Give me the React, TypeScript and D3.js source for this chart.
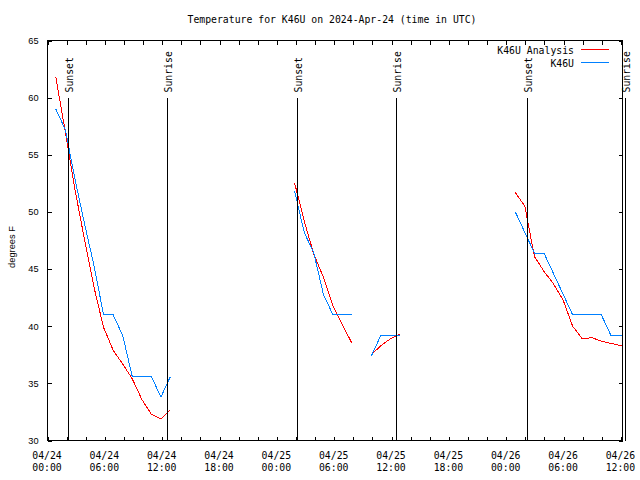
import React from "react";
import * as d3 from "d3";

const WIDTH = 640;
const HEIGHT = 480;
const PLOT = { left: 47.5, right: 622.5, top: 40.5, bottom: 440.5 };

const TITLE = "Temperature for K46U on 2024-Apr-24 (time in UTC)";
const Y_LABEL = "degrees F";
const X_DOMAIN = ["2024-04-24T00:00:00Z", "2024-04-26T12:10:00Z"];
const Y_DOMAIN = [30, 65];
const Y_TICKS = [30, 35, 40, 45, 50, 55, 60, 65];

const SUNSETS = ["2024-04-24T02:08:00Z", "2024-04-25T02:09:00Z", "2024-04-26T02:10:00Z"];
const SUNRISES = ["2024-04-24T12:31:00Z", "2024-04-25T12:29:00Z", "2024-04-26T12:28:00Z"];

// Hourly segments: start time of each segment
const SEGMENT_STARTS = [
  "2024-04-24T00:52:00Z",
  "2024-04-25T01:52:00Z",
  "2024-04-25T09:53:00Z",
  "2024-04-26T00:57:00Z",
];

// K46U Analysis (red)
const analysis1 = [61.8, 57.0, 52.0, 47.6, 43.4, 39.9, 37.9, 36.7, 35.4, 33.6, 32.3, 31.9, 32.7];
const analysis2 = [52.5, 49.2, 46.3, 44.3, 41.8, 40.1, 38.5];
const analysis3 = [37.5, 38.3, 38.9, 39.3];
const analysis4 = [51.7, 50.5, 46.1, 44.8, 43.7, 42.3, 40.0, 38.9, 39.0, 38.7, 38.5, 38.3, 38.1];

// K46U observations (blue)
const obs1 = [59.0, 57.2, 52.9, 49.0, 45.3, 41.0, 41.0, 39.2, 35.6, 35.6, 35.6, 33.8, 35.6];
const obs2 = [51.8, 48.2, 46.4, 42.8, 41.0, 41.0, 41.0];
const obs3 = [37.4, 39.2, 39.2, 39.2];
const obs4 = [50.0, 48.2, 46.4, 46.4, 44.6, 42.8, 41.0, 41.0, 41.0, 41.0, 39.2, 39.2, 39.2];

const ANALYSIS = [analysis1, analysis2, analysis3, analysis4];
const OBS = [obs1, obs2, obs3, obs4];

const RED = "#ff0000";
const BLUE = "#0080ff";
const MONO = "'DejaVu Sans Mono', monospace";
const SANS = "'Liberation Sans', Arial, sans-serif";

type Pt = { t: Date; v: number };

function toPoints(start: string, values: number[]): Pt[] {
  const s = new Date(start);
  return values.map((v, i) => ({ t: d3.utcHour.offset(s, i), v }));
}

export default function App() {
  const x = d3
    .scaleUtc()
    .domain(X_DOMAIN.map((d) => new Date(d)) as [Date, Date])
    .range([PLOT.left, PLOT.right]);
  const y = d3.scaleLinear().domain(Y_DOMAIN).range([PLOT.bottom, PLOT.top]);

  const line = d3
    .line<Pt>()
    .x((d) => x(d.t))
    .y((d) => y(d.v));

  const minorTicks = x.ticks(d3.utcHour.every(2) as any);
  const majorTicks = x.ticks(d3.utcHour.every(6) as any);
  const fmtDate = d3.utcFormat("%m/%d");
  const fmtTime = d3.utcFormat("%H:%M");
  const TL = 4;

  const markerTop = 98;

  return (
    <svg
      width={WIDTH}
      height={HEIGHT}
      style={{ display: "block", background: "#fff", position: "absolute", left: 0, top: 0 }}
    >
      <defs>
        <clipPath id="plotclip">
          <rect x={PLOT.left} y={PLOT.top} width={PLOT.right - PLOT.left} height={PLOT.bottom - PLOT.top} />
        </clipPath>
      </defs>

      <text x={332} y={22.5} textAnchor="middle" fontFamily={MONO} fontSize={9.8} fill="#000">
        {TITLE}
      </text>

      {/* y ticks */}
      {Y_TICKS.map((t) => (
        <g key={"y" + t}>
          <line x1={PLOT.left} x2={PLOT.left + TL} y1={Math.round(y(t)) + 0.5} y2={Math.round(y(t)) + 0.5} stroke="#000" shapeRendering="crispEdges" />
          <line x1={PLOT.right} x2={PLOT.right - TL} y1={Math.round(y(t)) + 0.5} y2={Math.round(y(t)) + 0.5} stroke="#000" shapeRendering="crispEdges" />
          <text x={38.5} y={y(t)} dy="0.36em" textAnchor="end" fontFamily={SANS} fontSize={9.2} fill="#000">
            {t}
          </text>
        </g>
      ))}

      {/* x ticks */}
      {minorTicks.map((t, i) => (
        <g key={"xt" + i}>
          <line x1={Math.round(x(t)) + 0.5} x2={Math.round(x(t)) + 0.5} y1={PLOT.bottom} y2={PLOT.bottom - TL} stroke="#000" shapeRendering="crispEdges" />
          <line x1={Math.round(x(t)) + 0.5} x2={Math.round(x(t)) + 0.5} y1={PLOT.top} y2={PLOT.top + TL} stroke="#000" shapeRendering="crispEdges" />
        </g>
      ))}
      {majorTicks.map((t, i) => (
        <g key={"xl" + i}>
          <text x={x(t) - 0.5} y={458.5} textAnchor="middle" fontFamily={MONO} fontSize={9.8} fill="#000">
            {fmtDate(t)}
          </text>
          <text x={x(t) - 0.5} y={471} textAnchor="middle" fontFamily={MONO} fontSize={9.8} fill="#000">
            {fmtTime(t)}
          </text>
        </g>
      ))}

      <text
        transform={`translate(${14.5},${247}) rotate(-90)`}
        textAnchor="middle"
        fontFamily={SANS}
        fontSize={9.3}
        fill="#000"
      >
        {Y_LABEL}
      </text>

      {/* data */}
      <g clipPath="url(#plotclip)">
        {ANALYSIS.map((vals, i) => (
          <path key={"a" + i} d={line(toPoints(SEGMENT_STARTS[i], vals)) || ""} fill="none" stroke={RED} strokeWidth={1} shapeRendering="crispEdges" />
        ))}
        {OBS.map((vals, i) => (
          <path key={"o" + i} d={line(toPoints(SEGMENT_STARTS[i], vals)) || ""} fill="none" stroke={BLUE} strokeWidth={1} shapeRendering="crispEdges" />
        ))}
      </g>

      {/* sunset / sunrise markers */}
      {[...SUNSETS.map((s) => ({ s, label: "Sunset" })), ...SUNRISES.map((s) => ({ s, label: "Sunrise" }))].map((m, i) => {
        const px = Math.round(x(new Date(m.s))) + 0.5;
        return (
          <g key={"m" + i}>
            <line x1={px} x2={px} y1={markerTop} y2={PLOT.bottom} stroke="#000" strokeWidth={1} shapeRendering="crispEdges" />
            <text
              transform={`translate(${px + 4},${92.5}) rotate(-90)`}
              textAnchor="start"
              fontFamily={MONO}
              fontSize={9.8}
              fill="#000"
            >
              {m.label}
            </text>
          </g>
        );
      })}

      {/* border */}
      <rect x={PLOT.left} y={PLOT.top} width={PLOT.right - PLOT.left} height={PLOT.bottom - PLOT.top} fill="none" stroke="#000" strokeWidth={1} shapeRendering="crispEdges" />

      {/* legend */}
      <text x={574} y={53.5} textAnchor="end" fontFamily={MONO} fontSize={9.8} fill="#000">
        K46U Analysis
      </text>
      <line x1={581} x2={609} y1={49.5} y2={49.5} stroke={RED} shapeRendering="crispEdges" />
      <text x={574} y={66.5} textAnchor="end" fontFamily={MONO} fontSize={9.8} fill="#000">
        K46U
      </text>
      <line x1={581} x2={609} y1={62.5} y2={62.5} stroke={BLUE} shapeRendering="crispEdges" />
    </svg>
  );
}
